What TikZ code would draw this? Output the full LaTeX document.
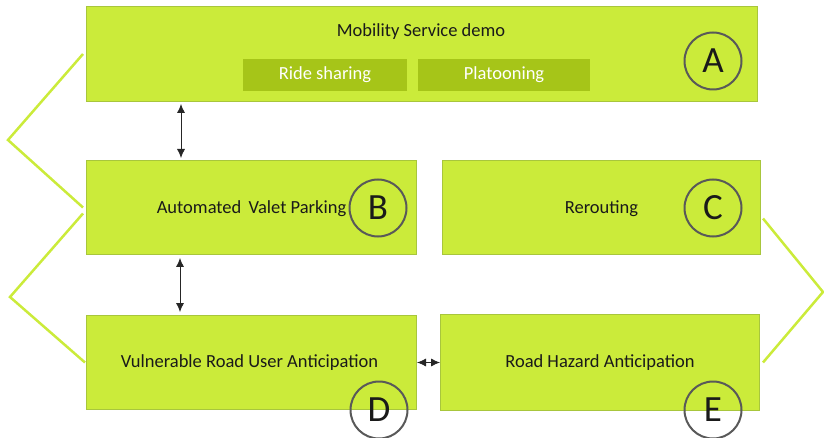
\documentclass[tikz,border=0pt]{standalone}
\usepackage{fontspec}
\setmainfont{Carlito}
\usetikzlibrary{arrows.meta,positioning}
\definecolor{boxgreen}{HTML}{CBEB3A}
\definecolor{boxedge}{HTML}{A8C63C}
\definecolor{subgreen}{HTML}{A6C518}
\definecolor{ringgray}{HTML}{595959}
\definecolor{inkdark}{HTML}{1A1A1A}

\begin{document}
\begin{tikzpicture}
	[
		x=1pt, y=-1pt,
		every node/.style={font=\fontsize{18.5}{22}\selectfont, text=inkdark},
		stage/.style={draw=boxedge, fill=boxgreen, line width=1pt, inner sep=0pt, anchor=north west},
		subtask/.style={fill=subgreen, text=white, inner sep=0pt, minimum height=32pt},
		ring/.style={circle, draw=ringgray, line width=2pt, minimum size=57pt, inner sep=0pt, font=\fontsize{37}{40}\selectfont},
		twoway/.style={{Latex[length=9pt,width=8pt]}-{Latex[length=9pt,width=8pt]}, line width=0.8pt, draw=black!85},
		bracket/.style={draw=boxgreen, line width=2.5pt}
	]
	\useasboundingbox (0,0) rectangle (824,438);

	\node(boxA) [stage, minimum width=671pt, minimum height=95pt] at (86,6) {};
	\node(boxB) [stage, minimum width=330pt, minimum height=94pt] at (86,160) {};
	\node(boxC) [stage, minimum width=318pt, minimum height=94pt] at (442,160) {};
	\node(boxD) [stage, minimum width=330pt, minimum height=94pt] at (86,315) {};
	\node(boxE) [stage, minimum width=319pt, minimum height=96pt] at (440,314) {};

	\node(title) at (421,32) {Mobility Service demo};
	\node(ride) [subtask, minimum width=164pt] at (325,75) {Ride sharing};
	\node(platoon) [subtask, minimum width=172pt] at (504,75) {Platooning};
	\node(avp) at ([yshift=-1pt]boxB.center) {Automated\, Valet Parking};
	\node(rerouting) at ([yshift=-1pt]boxC.center) {Rerouting};
	\node(vru) at ([xshift=-2pt]boxD.center) {Vulnerable Road User Anticipation};
	\node(hazard) at (boxE.center) {Road Hazard Anticipation};

	\foreach \l/\x/\y in {A/713/61, B/378/208, C/713/208, D/379/410, E/713/410}
		\node(ring\l) [ring] at (\x,\y) {\l};

	\draw[twoway] ([xshift=95pt,yshift=-2pt]boxA.south west) -- ([xshift=95pt,yshift=2pt]boxB.north west);
	\draw[twoway] ([xshift=94pt,yshift=-3pt]boxB.south west) -- ([xshift=94pt,yshift=3pt]boxD.north west);
	\draw[twoway] (boxD.east) -- (boxE.west);

%	brackets grouping the rows
	\coordinate(tipl1) at (8,140);
	\coordinate(tipl2) at (10,297);
	\coordinate(tipr) at (823,292);
	\draw[bracket] ([xshift=-3pt]boxA.west) -- (tipl1) -- ([xshift=-3pt]boxB.west);
	\draw[bracket] ([xshift=-3pt,yshift=-6pt]boxB.west) -- (tipl2) -- ([xshift=-1pt]boxD.west);
	\draw[bracket] ([xshift=2pt,yshift=-11pt]boxC.east) -- (tipr) -- ([xshift=3pt]boxE.east);
\end{tikzpicture}
\end{document}
